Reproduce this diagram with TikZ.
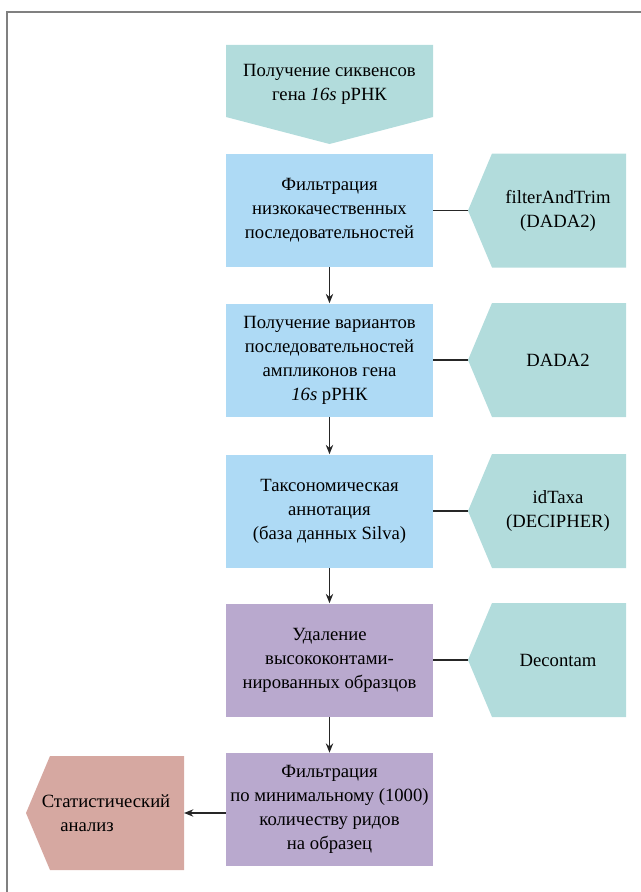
\documentclass[tikz,border=0pt]{standalone}
\usepackage{fontspec}
\setmainfont{Liberation Serif}
\usetikzlibrary{arrows.meta,positioning,calc}
\usepackage{xcolor}

\definecolor{tealbox}{HTML}{B2DCDC}
\definecolor{bluebox}{HTML}{AEDAF5}
\definecolor{violetbox}{HTML}{B9A9CE}
\definecolor{rosebox}{HTML}{D6A8A1}
\definecolor{framegray}{HTML}{808080}

\tikzset{
  txt/.style={align=center, inner sep=0pt, font=\fontsize{14}{18}\selectfont},
  stepbox/.style={txt, fill=#1, minimum width=155.25pt, minimum height=84.75pt},
  link/.style={draw=black!85, line width=1.1pt},
  flow/.style={link, -{Stealth[length=7pt, width=5.5pt]}}
}

\begin{document}
\begin{tikzpicture}[x=0.75pt, y=-0.75pt]
    % Picture size (px)
    \useasboundingbox (0,0) rectangle (640,892);

    % Frame, cut at the right and bottom
    \draw[framegray, line width=2pt] (7,12) rectangle (700,950);

    % Sequencing data
    \fill[tealbox] (226,45) -- (433,45) -- (433,117) -- (329.5,144) -- (226,117) -- cycle;
    \node[txt] (reads) at (329.5,84) {Получение сиквенсов\\гена \textit{16s} рРНК};

    % Processing steps
    \node[stepbox=bluebox] (filt) at (329.5,210.5) {Фильтрация\\низкокачественных\\последовательностей};
    \node[stepbox=bluebox] (asv) at (329.5,360) {Получение вариантов\\последовательностей\\ампликонов гена\\\textit{16s} рРНК};
    \node[stepbox=bluebox] (taxa) at (329.5,511) {Таксономическая\\аннотация\\(база данных Silva)};
    \node[stepbox=violetbox] (decont) at (329.5,660) {Удаление\\высококонтами-\\нированных образцов};
    \node[stepbox=violetbox] (depth) at (329.5,809.5) {Фильтрация\\по минимальному (1000)\\количеству ридов\\на образец};

    % Tools
    \foreach \yc/\nm/\txt in {210.5/trim/{filterAndTrim\\(DADA2)}, 360/dada/{DADA2}, 511/idtaxa/{idTaxa\\(DECIPHER)}, 660/decontam/{Decontam}} {
        \fill[tealbox] (468,\yc) -- (492,{\yc-57}) -- (626,{\yc-57}) -- (626,{\yc+57}) -- (492,{\yc+57}) -- cycle;
        \coordinate (\nm-tip) at (468,\yc);
        \node[txt] (\nm) at (558,\yc) {\txt};
    }

    % Statistics
    \fill[rosebox] (26,813) -- (50,756) -- (184,756) -- (184,870) -- (50,870) -- cycle;
    \coordinate (stat-tip) at (184,813);
    \node[txt, align=left] (stat) at (106,813) {Статистический\\\hspace*{1em}анализ};

    % Connectors
    \draw[flow] (filt) -- (asv);
    \draw[flow] (asv) -- (taxa);
    \draw[flow] (taxa) -- (decont);
    \draw[flow] (decont) -- (depth);
    \draw[flow] (depth.west |- stat-tip) -- (stat-tip);
    \draw[link] (filt.east) -- (trim-tip);
    \draw[link] (asv.east) -- (dada-tip);
    \draw[link] (taxa.east) -- (idtaxa-tip);
    \draw[link] (decont.east) -- (decontam-tip);
\end{tikzpicture}
\end{document}
